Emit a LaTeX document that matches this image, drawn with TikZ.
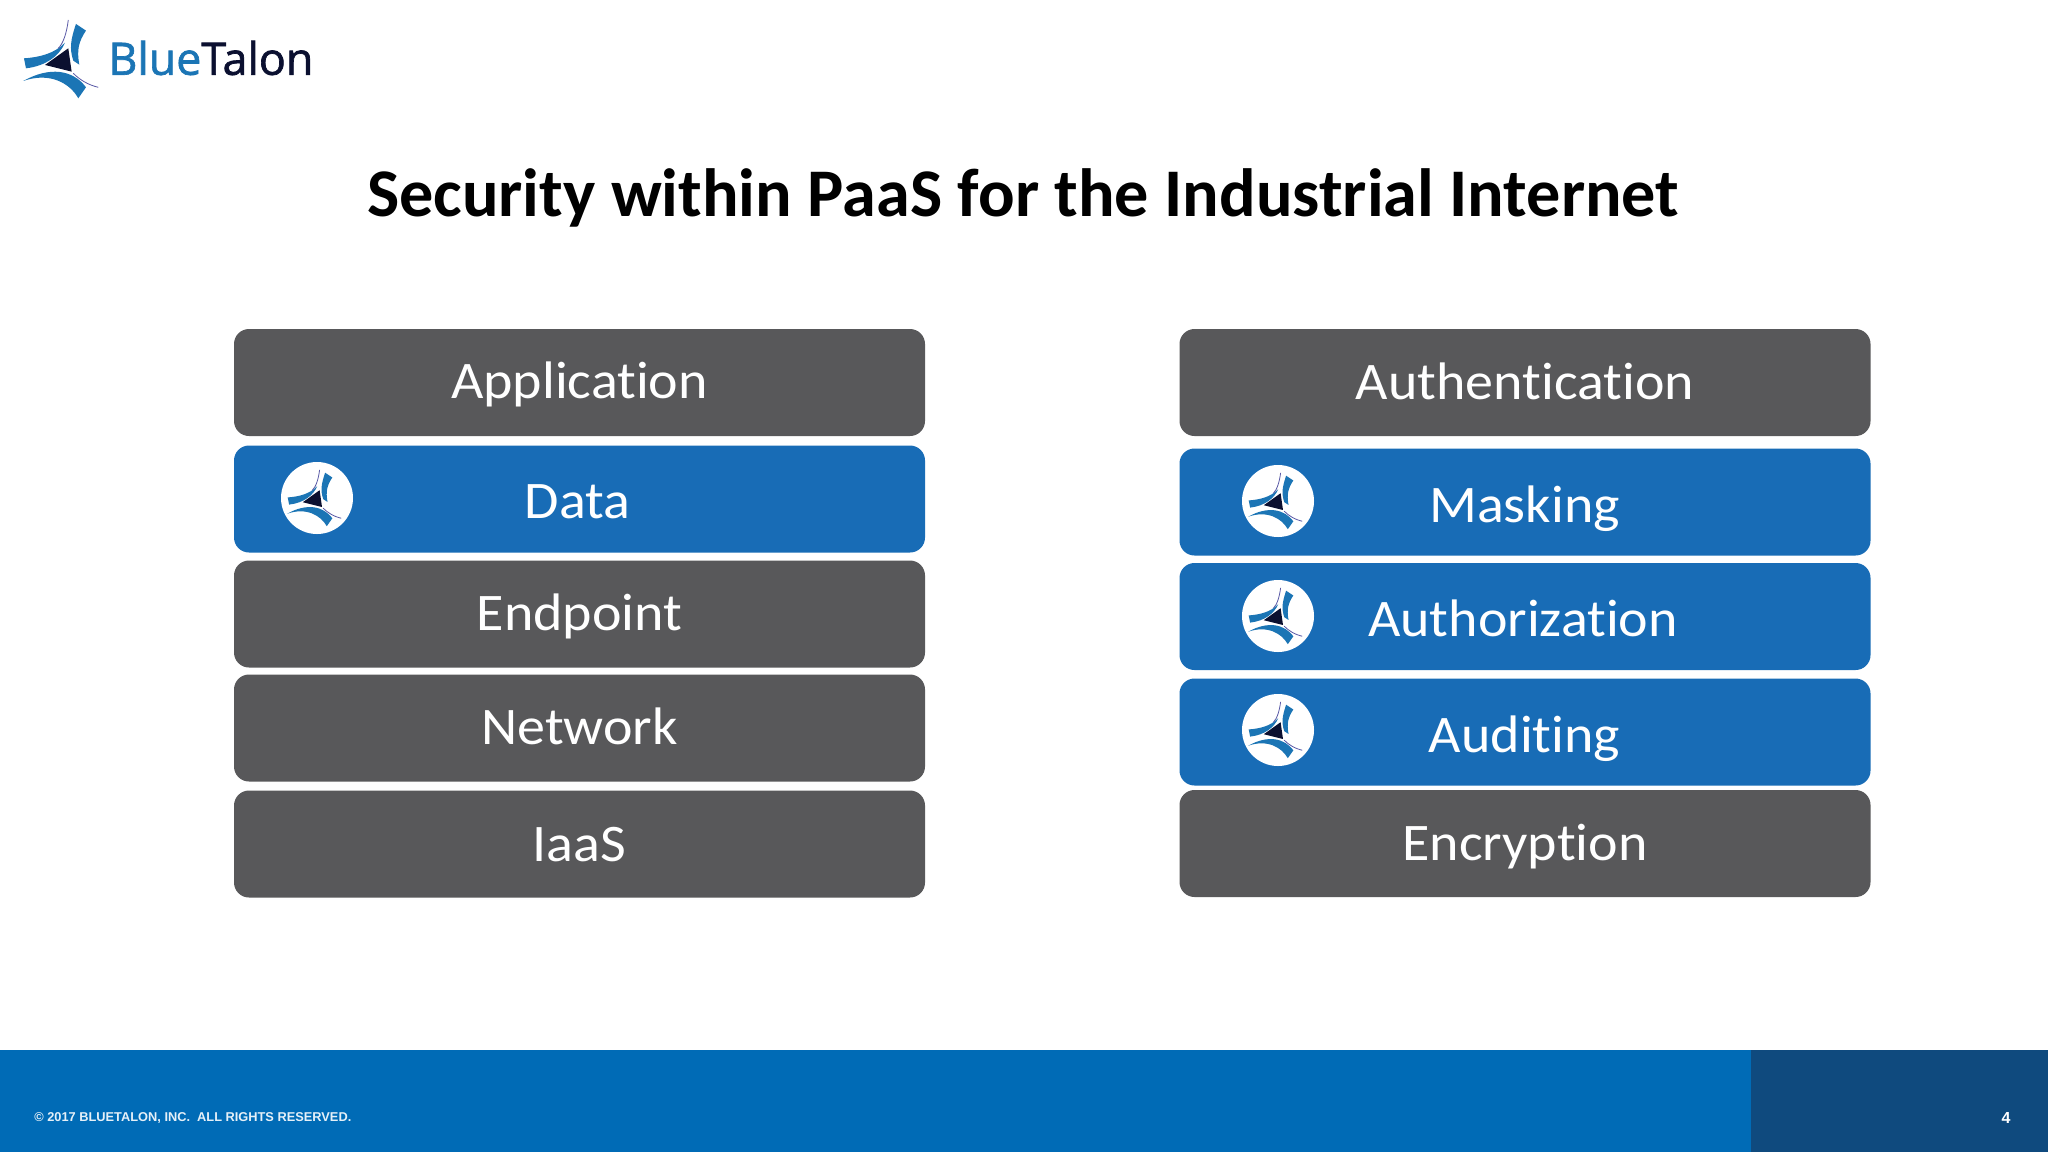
\documentclass[tikz,border=0pt]{standalone}
\usepackage{fontspec}
\setmainfont[Ligatures=NoCommon]{Carlito}
\newfontfamily\lblfont[FakeStretch=1.06,Ligatures=NoCommon]{Carlito}
\newfontfamily\logofont[FakeBold=1.5]{Open Sans}
\newfontfamily\footfont{Liberation Sans}
\definecolor{slate}{HTML}{58585A}
\definecolor{bluebox}{HTML}{186CB6}
\definecolor{barblue}{HTML}{006BB6}
\definecolor{bardark}{HTML}{0F4A7E}
\definecolor{logoblue}{HTML}{1B75B5}
\definecolor{logodark}{HTML}{0B1030}
\tikzset{
  x=0.5pt,y=-0.5pt,
  graybox/.style={fill=slate,draw=none,rounded corners=7.5pt,minimum width=345.5pt,minimum height=53.5pt,inner sep=0pt},
  bluepanel/.style={graybox,fill=bluebox},
  boxtext/.style={anchor=base,inner sep=0pt,text=white,font=\lblfont\fontsize{26.4}{32}\selectfont},
}
\newcommand{\talonmark}[3]{%
  \begin{scope}[shift={(#1,#2)},scale=#3/3]
    \fill[logodark] (-55,5) -- (15,-45) -- (25,25) -- cycle;
    \fill[logoblue] (38,-118) .. controls (22,-70) and (18,-45) .. (30,-8) -- (48,4) .. controls (40,-40) and (46,-65) .. (68,-98) -- cycle;
    \fill[logoblue] (-118,-15) .. controls (-70,-18) and (-25,-30) .. (5,-62) .. controls (-10,-25) and (-50,8) .. (-112,15) -- cycle;
    \fill[logoblue] (-120,53) .. controls (-40,8) and (30,20) .. (68,72) -- (45,105) .. controls (20,60) and (-40,25) .. (-120,53) -- cycle;
    \draw[gray!70!blue,line width=0.4pt] (15,-130) .. controls (10,-90) and (0,-60) .. (-15,-45);
    \draw[gray!70!blue,line width=0.4pt] (30,30) .. controls (50,50) and (75,65) .. (105,72);
  \end{scope}}
\newcommand{\roundmark}[2]{%
  \fill[white] (#1,#2) circle (18pt);
  \talonmark{#1-1}{#2+3}{0.72}}
\begin{document}
\begin{tikzpicture}
\useasboundingbox (0,0) rectangle (2048,1152);
\fill[white] (0,0) rectangle (2048,1152);
% footer
\fill[barblue] (0,1050) rectangle (1751,1152);
\fill[bardark] (1751,1050) rectangle (2048,1152);
\node[anchor=west,inner sep=0pt,text=white!90!barblue,font=\footfont\bfseries\fontsize{6.4}{8}\selectfont] (copy) at (34,1118) {© 2017 BLUETALON, INC.\ \ ALL RIGHTS RESERVED.};
\node[inner sep=0pt,text=white,font=\footfont\bfseries\fontsize{8}{10}\selectfont] (pg) at (2006,1118) {4};
% logo
\talonmark{63.3}{63.3}{1}
\node[anchor=west,inner sep=0pt,font=\logofont\fontsize{22.4}{28}\selectfont] (logo) at (108,58) {\textcolor{logoblue}{Blue}\textcolor{logodark}{Talon}};
% title
\node[inner sep=0pt,font=\bfseries\fontsize{34.1}{40}\selectfont] (title) at (1023,198) {Security within PaaS for the Industrial Internet};
% left
\node[graybox] (app) at (579.5,382.5) {};
\node[bluepanel] (data) at (579.5,499) {};
\node[graybox] (end) at (579.5,614) {};
\node[graybox] (net) at (579.5,728) {};
\node[graybox] (iaas) at (579.5,844) {};
\node[boxtext] (tapp) at (579.5,398) {Application};
\node[boxtext] (tdata) at (577.5,518.5) {Data};
\node[boxtext] (tend) at (579.5,630) {Endpoint};
\node[boxtext] (tnet) at (579.5,744.5) {Network};
\node[boxtext] (tiaas) at (579.5,861) {IaaS};
% right
\node[graybox] (auth) at (1525,382.5) {};
\node[bluepanel] (mask) at (1525,502) {};
\node[bluepanel] (authz) at (1525,616.5) {};
\node[bluepanel] (audit) at (1525,732) {};
\node[graybox] (enc) at (1525,843.5) {};
\node[boxtext] (tauth) at (1525,399) {Authentication};
\node[boxtext] (tmask) at (1524.5,522) {Masking};
\node[boxtext] (tauthz) at (1523,636) {Authorization};
\node[boxtext] (taudit) at (1524.5,752) {Auditing};
\node[boxtext] (tenc) at (1525,860) {Encryption};
\roundmark{317}{498}
\roundmark{1278}{501}
\roundmark{1278}{616}
\roundmark{1278}{730}
\end{tikzpicture}
\end{document}
